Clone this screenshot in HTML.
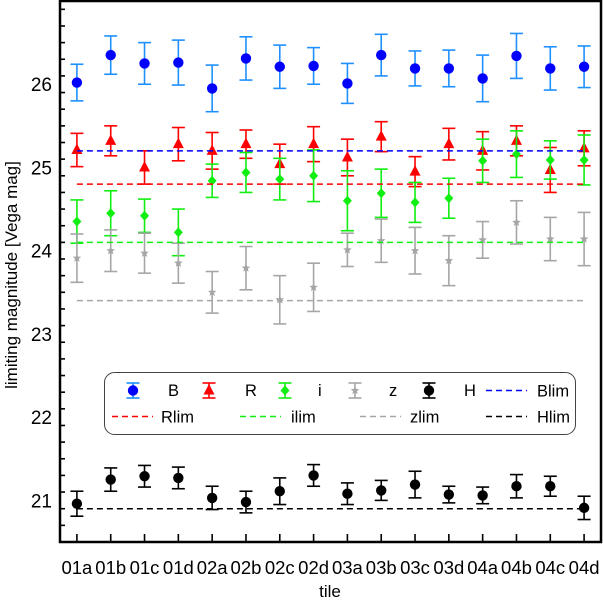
<!DOCTYPE html>
<html><head><meta charset="utf-8"><style>
html,body{margin:0;padding:0;background:#fff;}
svg{display:block;font-family:"Liberation Sans",Arial,sans-serif;}
</style></head><body>
<svg id="chart" width="603" height="600" viewBox="0 0 603 600" xmlns="http://www.w3.org/2000/svg"></svg>
<script>
const categories = ["01a","01b","01c","01d","02a","02b","02c","02d","03a","03b","03c","03d","04a","04b","04c","04d"];
const bVals = [26.02,26.35,26.25,26.26,25.95,26.31,26.21,26.22,26.01,26.35,26.19,26.19,26.07,26.34,26.19,26.21];
const bErr  = [0.22,0.23,0.25,0.27,0.28,0.26,0.26,0.22,0.24,0.25,0.21,0.22,0.28,0.27,0.26,0.25];
const rVals = [25.21,25.32,25.00,25.28,25.20,25.28,25.04,25.28,25.12,25.37,24.95,25.28,25.20,25.32,24.97,25.23];
const rErr  = [0.20,0.18,0.20,0.20,0.22,0.17,0.24,0.21,0.22,0.18,0.18,0.19,0.23,0.18,0.27,0.21];
const iVals = [24.35,24.45,24.42,24.22,24.84,24.94,24.86,24.90,24.60,24.69,24.58,24.63,25.08,25.16,25.09,25.09];
const iErr  = [0.26,0.27,0.20,0.28,0.20,0.24,0.25,0.31,0.36,0.29,0.24,0.24,0.26,0.28,0.23,0.30];
const zVals = [23.91,24.00,23.97,23.85,23.50,23.79,23.41,23.56,24.01,24.12,24.00,23.88,24.13,24.34,24.14,24.14];
const zErr  = [0.29,0.25,0.24,0.24,0.25,0.26,0.29,0.29,0.20,0.26,0.28,0.30,0.22,0.26,0.26,0.32];
const hVals = [20.96,21.25,21.29,21.27,21.03,20.98,21.11,21.30,21.08,21.12,21.19,21.07,21.06,21.17,21.17,20.91];
const hErr  = [0.15,0.14,0.13,0.13,0.14,0.13,0.16,0.13,0.13,0.12,0.16,0.10,0.10,0.14,0.12,0.14];
const limNames = ["Blim","Rlim","ilim","zlim","Hlim"];
const limVals = [25.2,24.8,24.1,23.4,20.9];
const yTicks = [21,22,23,24,25,26];

const svg = document.getElementById('chart');
const NS = "http://www.w3.org/2000/svg";
const L=60, R=601, T=1, B=542, YMIN=20.5, YMAX=27;
const xS = i => L + (i+0.5)*(R-L)/categories.length;
const yS = v => B - (v-YMIN)*(B-T)/(YMAX-YMIN);
function mk(tag, attrs, parent){const e=document.createElementNS(NS,tag);for(const k in attrs)e.setAttribute(k,attrs[k]);(parent||svg).appendChild(e);return e;}

const series = [
 {name:"B", vals:bVals, err:bErr, ec:"#1e90ff", mc:"#0000ff", m:"circle"},
 {name:"R", vals:rVals, err:rErr, ec:"#ff0000", mc:"#ff0000", m:"tri"},
 {name:"i", vals:iVals, err:iErr, ec:"#11ee11", mc:"#11ee11", m:"diamond"},
 {name:"z", vals:zVals, err:zErr, ec:"#a6a6a6", mc:"#a6a6a6", m:"star"},
 {name:"H", vals:hVals, err:hErr, ec:"#000000", mc:"#000000", m:"circle"}
];
function marker(g, type, x, y, c){
  if(type==="circle") return mk('circle',{cx:x,cy:y,r:5.2,fill:c},g);
  if(type==="tri") return mk('polygon',{points:`${x},${y-6.5} ${x+5.5},${y+4} ${x-5.5},${y+4}`,fill:c},g);
  if(type==="diamond") return mk('polygon',{points:`${x},${y-5} ${x+4.5},${y} ${x},${y+5} ${x-4.5},${y}`,fill:c},g);
  let p=[];for(let k=0;k<10;k++){const a=-Math.PI/2+k*Math.PI/5,r=k%2?2:4.5;p.push((x+r*Math.cos(a)).toFixed(2)+","+(y+r*Math.sin(a)).toFixed(2));}
  return mk('polygon',{points:p.join(" "),fill:c},g);
}
function errbar(g,x,yt,yb,c){
  mk('line',{x1:x,x2:x,y1:yt,y2:yb,stroke:c,'stroke-width':1.6},g);
  mk('line',{x1:x-6.5,x2:x+6.5,y1:yt,y2:yt,stroke:c,'stroke-width':1.6},g);
  mk('line',{x1:x-6.5,x2:x+6.5,y1:yb,y2:yb,stroke:c,'stroke-width':1.6},g);
}
series.forEach(s=>{
  const g=mk('g',{});
  
  
  s.vals.forEach((v,i)=>{
    const pg=mk('g',{},g);
    
    
    errbar(pg,xS(i),yS(v+s.err[i]),yS(v-s.err[i]),s.ec);
    marker(pg,s.m,xS(i),yS(v),s.mc);
  });
});
const limColors=["#0000ff","#ff0000","#11ee11","#a6a6a6","#000000"];
limVals.forEach((v,i)=>{
  const l=mk('line',{x1:xS(0),x2:xS(categories.length-1),y1:yS(v),y2:yS(v),stroke:limColors[i],'stroke-width':1.5,'stroke-dasharray':'6,4'});
  
  
});
const fr=mk('rect',{x:L,y:T,width:R-L,height:B-T,fill:'none',stroke:'#000','stroke-width':2.5});


for(let k=0;k<=32;k++){
  const v=YMIN+0.2*k; if(v>YMAX+1e-6)break;
  const major=Math.abs(v-Math.round(v))<1e-6;
  mk('line',{x1:L,x2:L+(major?8:5),y1:yS(v),y2:yS(v),stroke:'#000','stroke-width':1.6});
}
yTicks.forEach(v=>{
  const t=mk('text',{x:52,y:yS(v)+7,'text-anchor':'end','font-size':19,fill:'#000'});
  t.textContent=v;
  
  
});
categories.forEach((c,i)=>{
  mk('line',{x1:xS(i),x2:xS(i),y1:B,y2:B-8,stroke:'#000','stroke-width':1.6});
  const t=mk('text',{x:xS(i),y:574,'text-anchor':'middle','font-size':18.5,fill:'#000'});
  t.textContent=c;
  
  
});
const yt=mk('text',{x:0,y:0,transform:'translate(17,275) rotate(-90)','text-anchor':'middle','font-size':17,fill:'#000'});
yt.textContent='limiting magnitude [Vega mag]';


const xt=mk('text',{x:330,y:597,'text-anchor':'middle','font-size':17,fill:'#000'});
xt.textContent='tile';


const lg=mk('g',{});


mk('rect',{x:104.5,y:372.5,width:471,height:62,rx:10,fill:'#fff',stroke:'#444','stroke-width':1},lg);
const legPts=[133,209,285,355,429], legLab=[168,245,318,389,464];
series.forEach((s,i)=>{
  const e=mk('g',{},lg);
  
  
  errbar(e,legPts[i],383,398,s.ec);
  marker(e,s.m,legPts[i],390.5,s.mc);
  const t=mk('text',{x:legLab[i],y:396,'font-size':16.5,fill:'#000'},e);
  t.textContent=s.name;
});
const limPos=[[486,390.5,537],[112,416.5,161],[240,416.5,291],[360,416.5,410],[486,416.5,537]];
limNames.forEach((n,i)=>{
  const e=mk('g',{},lg);
  
  
  mk('line',{x1:limPos[i][0],x2:limPos[i][0]+41,y1:limPos[i][1],y2:limPos[i][1],stroke:limColors[i],'stroke-width':1.5,'stroke-dasharray':'6,4'},e);
  const t=mk('text',{x:limPos[i][2],y:limPos[i][1]+6,'font-size':16.5,fill:'#000'},e);
  t.textContent=n;
});
</script>
</body></html>
